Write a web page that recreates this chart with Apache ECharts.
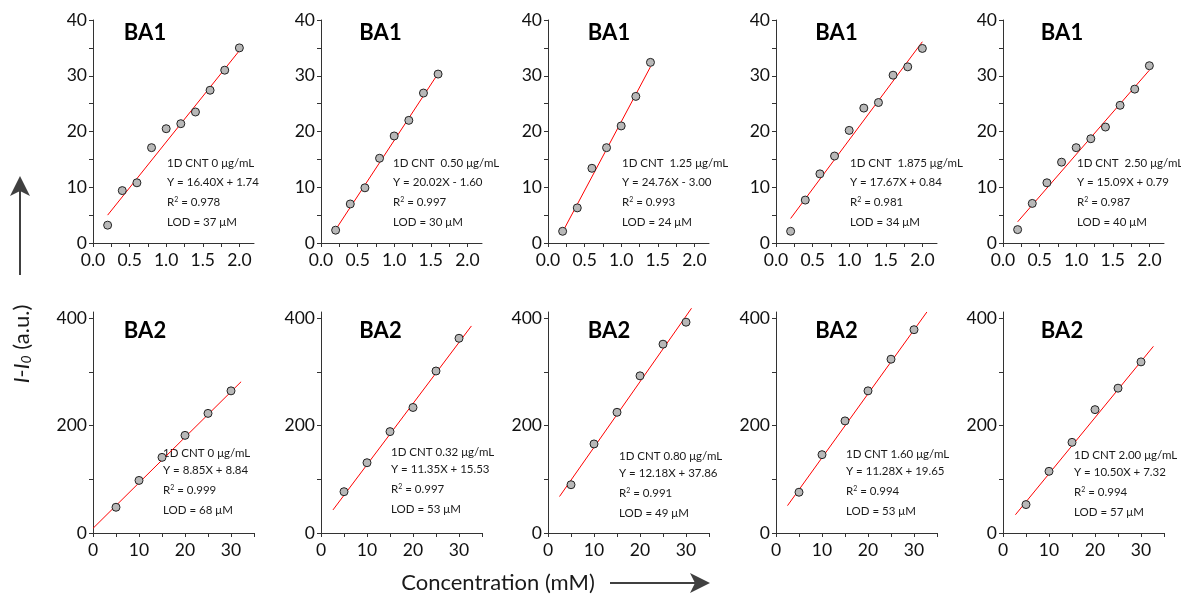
<!DOCTYPE html>
<html>
<head>
<meta charset="utf-8">
<title>BA1 / BA2 calibration</title>
<script src="https://cdn.jsdelivr.net/npm/echarts@6/dist/echarts.min.js"></script>
<style>
  html, body { margin: 0; padding: 0; background: #fff; }
  #chart { width: 1181px; height: 596px; }
</style>
</head>
<body>
<div id="chart"></div>
<script>
// concentrations (mM)
const ba1Conc = [0.2, 0.4, 0.6, 0.8, 1.0, 1.2, 1.4, 1.6, 1.8, 2.0];
const ba2Conc = [5, 10, 15, 20, 25, 30];

// BA1, I - I0 for each CNT loading
const ba1Cnt0 = [3.2, 9.4, 10.8, 17.1, 20.5, 21.4, 23.5, 27.4, 31.0, 35.0];
const ba1Cnt050 = [2.3, 7.0, 9.9, 15.2, 19.2, 22.0, 26.9, 30.3];
const ba1Cnt125 = [2.1, 6.3, 13.4, 17.1, 21.0, 26.3, 32.4];
const ba1Cnt1875 = [2.1, 7.7, 12.4, 15.6, 20.2, 24.2, 25.2, 30.1, 31.6, 34.9];
const ba1Cnt250 = [2.4, 7.1, 10.8, 14.5, 17.1, 18.7, 20.8, 24.7, 27.6, 31.8];

// BA2
const ba2Cnt0 = [48, 98, 141, 182, 223, 265];
const ba2Cnt032 = [77, 131, 189, 234, 302, 363];
const ba2Cnt080 = [90, 166, 225, 293, 352, 393];
const ba2Cnt160 = [76, 146, 209, 265, 324, 379];
const ba2Cnt200 = [53, 115, 169, 230, 270, 319];

// fit lines, end points as drawn
const ba1Fits = [
  [[0.2, 5.0], [2.0, 34.5]],
  [[0.2, 2.4], [1.6, 30.4]],
  [[0.2, 2.0], [1.4, 31.6]],
  [[0.2, 4.4], [2.0, 36.1]],
  [[0.2, 3.8], [2.0, 31.0]]
];
const ba2Fits = [
  [[0, 8.7], [32.2, 282]],
  [[2.6, 43], [32.7, 386]],
  [[2.5, 68], [31.2, 419]],
  [[2.5, 51], [32.8, 412]],
  [[2.7, 34], [32.7, 348]]
];

// annotation texts
const ba1Cnt = ['1D CNT 0 μg/mL', '1D CNT  0.50 μg/mL', '1D CNT  1.25 μg/mL', '1D CNT  1.875 μg/mL', '1D CNT  2.50 μg/mL'];
const ba1Eq = ['Y = 16.40X + 1.74', 'Y = 20.02X - 1.60', 'Y = 24.76X - 3.00', 'Y = 17.67X + 0.84', 'Y = 15.09X + 0.79'];
const ba1R2 = ['0.978', '0.997', '0.993', '0.981', '0.987'];
const ba1Lod = ['37', '30', '24', '34', '40'];
const ba2Cnt = ['1D CNT 0 μg/mL', '1D CNT 0.32 μg/mL', '1D CNT 0.80 μg/mL', '1D CNT 1.60 μg/mL', '1D CNT 2.00 μg/mL'];
const ba2Eq = ['Y = 8.85X + 8.84', 'Y = 11.35X + 15.53', 'Y = 12.18X + 37.86', 'Y = 11.28X + 19.65', 'Y = 10.50X + 7.32'];
const ba2R2 = ['0.999', '0.997', '0.991', '0.994', '0.994'];
const ba2Lod = ['68', '53', '49', '53', '57'];

// ticks
const ba1XTicks = [0, 0.25, 0.5, 0.75, 1, 1.25, 1.5, 1.75, 2];
const ba1XLabels = [0, 0.5, 1, 1.5, 2];
const ba1YTicks = [0, 5, 10, 15, 20, 25, 30, 35, 40];
const ba1YLabels = [0, 10, 20, 30, 40];
const ba2XTicks = [0, 5, 10, 15, 20, 25, 30, 35];
const ba2XLabels = [0, 10, 20, 30];
const ba2YTicks = [0, 100, 200, 300, 400];
const ba2YLabels = [0, 200, 400];

const FONT = 'Lato';
const lefts = [93, 321, 548, 776, 1003];
const plotW = 161;
const rows = [
  { top: 20, height: 223, name: 'BA1', conc: ba1Conc, ys: [ba1Cnt0, ba1Cnt050, ba1Cnt125, ba1Cnt1875, ba1Cnt250],
    fits: ba1Fits, cnt: ba1Cnt, eq: ba1Eq, r2: ba1R2, lod: ba1Lod,
    xMax: 2.2, yMax: 40, xt: ba1XTicks, xl: ba1XLabels, yt: ba1YTicks, yl: ba1YLabels, xFmt: v => v.toFixed(1),
    nameY: 32.5, textDx: [74, 72, 74, 74, 74], textY: [163, 163, 163, 163, 163], gaps: [0, 19, 39, 59] },
  { top: 312, height: 221, name: 'BA2', conc: ba2Conc, ys: [ba2Cnt0, ba2Cnt032, ba2Cnt080, ba2Cnt160, ba2Cnt200],
    fits: ba2Fits, cnt: ba2Cnt, eq: ba2Eq, r2: ba2R2, lod: ba2Lod,
    xMax: 35, yMax: 412, xt: ba2XTicks, xl: ba2XLabels, yt: ba2YTicks, yl: ba2YLabels, xFmt: v => String(v),
    nameY: 331, textDx: [70, 70, 71, 70, 71], textY: [453, 452, 456, 454, 455], gaps: [0, 17, 37, 57] }
];
const nameDx = [52, 59.5, 61, 60.5, 59];

const grid = [], xAxis = [], yAxis = [], series = [], graphic = [];
const axisCommon = {
  axisLine: { lineStyle: { color: '#333', width: 1 } },
  axisTick: { show: true, inside: false, length: 4, lineStyle: { color: '#333' } },
  splitLine: { show: false }
};

rows.forEach((row, r) => {
  lefts.forEach((left, i) => {
    const k = grid.length;
    grid.push({ left: left, top: row.top, width: plotW, height: row.height });
    xAxis.push(Object.assign({}, axisCommon, {
      type: 'value', gridIndex: k, min: 0, max: row.xMax,
      axisTick: Object.assign({}, axisCommon.axisTick, { customValues: row.xt }),
      axisLabel: { customValues: row.xl, formatter: row.xFmt, margin: 8, color: '#111', fontSize: 17.5, fontFamily: FONT }
    }));
    yAxis.push(Object.assign({}, axisCommon, {
      type: 'value', gridIndex: k, min: 0, max: row.yMax,
      axisTick: Object.assign({}, axisCommon.axisTick, { customValues: row.yt }),
      axisLabel: { customValues: row.yl, margin: 6, color: '#111', fontSize: 17.5, fontFamily: FONT }
    }));
    const ys = row.ys[i];
    series.push({
      type: 'line', xAxisIndex: k, yAxisIndex: k, data: row.fits[i], symbol: 'none', clip: false,
      lineStyle: { color: '#ff0000', width: 1 }, z: 2, silent: true
    });
    series.push({
      type: 'scatter', xAxisIndex: k, yAxisIndex: k, symbolSize: 8, z: 3,
      data: ys.map((y, j) => [row.conc[j], y]),
      itemStyle: { color: '#b8b8b8', borderColor: '#222', borderWidth: 1, opacity: 1 }
    });
    // panel name
    graphic.push({
      type: 'text', x: left + nameDx[i], y: row.nameY,
      style: { text: row.name, fill: '#000', font: 'bold 22px ' + FONT, textAlign: 'center', textVerticalAlign: 'middle' }
    });
    // annotation block
    const tx = left + row.textDx[i], ty = row.textY[i];
    const lines = [row.cnt[i], row.eq[i], 'R{sup|2} = ' + row.r2[i], 'LOD = ' + row.lod[i] + ' μM'];
    lines.forEach((t, j) => {
      graphic.push({
        type: 'text', x: tx, y: ty + row.gaps[j],
        style: {
          text: t, fill: '#1a1a1a', font: '11.5px ' + FONT, textAlign: 'left', textVerticalAlign: 'middle',
          rich: { sup: { fontSize: 7, verticalAlign: 'top', fontFamily: FONT, fill: '#1a1a1a' } }
        }
      });
    });
  });
});

// axis titles and arrows
graphic.push({
  type: 'text', x: 22, y: 344, rotation: Math.PI / 2,
  style: {
    text: '{it|I}-{it|I}{sub|0} (a.u.)', fill: '#1a1a1a', font: '22px ' + FONT,
    textAlign: 'center', textVerticalAlign: 'middle',
    rich: {
      it: { fontStyle: 'italic', fontSize: 22, fontFamily: FONT },
      sub: { fontStyle: 'italic', fontSize: 14, fontFamily: FONT, verticalAlign: 'bottom' }
    }
  }
});
graphic.push({ type: 'line', shape: { x1: 20, y1: 275, x2: 20, y2: 190 }, style: { stroke: '#404040', lineWidth: 2 } });
graphic.push({ type: 'polygon', shape: { points: [[20, 176], [30, 196], [20, 191], [10, 196]] }, style: { fill: '#404040' } });
graphic.push({
  type: 'text', x: 498, y: 583,
  style: { text: 'Concentration (mM)', fill: '#1a1a1a', font: '22px ' + FONT, textAlign: 'center', textVerticalAlign: 'middle' }
});
graphic.push({ type: 'line', shape: { x1: 610, y1: 583, x2: 696, y2: 583 }, style: { stroke: '#404040', lineWidth: 2 } });
graphic.push({ type: 'polygon', shape: { points: [[710, 583], [690, 573], [695, 583], [690, 593]] }, style: { fill: '#404040' } });

const chart = echarts.init(document.getElementById('chart'));
chart.setOption({
  animation: false,
  backgroundColor: '#fff',
  grid: grid,
  xAxis: xAxis,
  yAxis: yAxis,
  series: series,
  graphic: graphic
});
</script>
</body>
</html>
